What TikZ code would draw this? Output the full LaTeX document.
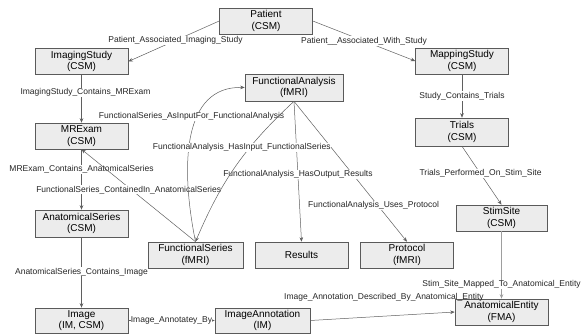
\documentclass[tikz,border=0pt]{standalone}
\usepackage{fontspec}
\setmainfont{Liberation Sans}
\usetikzlibrary{arrows.meta}
\definecolor{boxfill}{RGB}{236,236,236}
\definecolor{boxline}{RGB}{90,90,90}
\definecolor{edgeline}{RGB}{95,95,95}
\begin{document}
\begin{tikzpicture}[x=1pt,y=-1pt,
  ent/.style={draw=boxline,line width=0.6pt,fill=boxfill,rectangle,inner sep=0pt,
     minimum width=93pt,minimum height=26pt,align=center,font=\fontsize{10}{11.5}\selectfont},
  rel/.style={draw=edgeline,line width=0.5pt,-{Stealth[length=4.5pt,width=3.6pt]}},
  lbl/.style={fill=white,inner sep=0.6pt,font=\fontsize{8.5}{9}\selectfont,text=black!85}]
\useasboundingbox (0,0) rectangle (588,335);
% entities
\node[ent] (patient) at (266,21) {Patient\\(CSM)};
\node[ent] (imaging) at (81.5,61.5) {ImagingStudy\\(CSM)};
\node[ent] (mrexam) at (81.5,136) {MRExam\\(CSM)};
\node[ent,minimum width=98pt,minimum height=27pt] (funcan) at (294,87.5) {FunctionalAnalysis\\(fMRI)};
\node[ent] (mapping) at (462,61) {MappingStudy\\(CSM)};
\node[ent,minimum height=28pt] (trials) at (462,132) {Trials\\(CSM)};
\node[ent,minimum height=27pt] (anatser) at (81.5,223.5) {AnatomicalSeries\\(CSM)};
\node[ent,minimum width=95pt] (funcser) at (195.5,255) {FunctionalSeries\\(fMRI)};
\node[ent] (results) at (301.5,255) {Results};
\node[ent] (protocol) at (407,255) {Protocol\\(fMRI)};
\node[ent,minimum width=91pt] (stimsite) at (501.5,218) {StimSite\\(CSM)};
\node[ent] (anatent) at (501.5,312) {AnatomicalEntity\\(FMA)};
\node[ent,minimum height=25pt] (image) at (81.5,320.5) {Image\\(IM, CSM)};
\node[ent,minimum width=95pt,minimum height=25pt] (imgann) at (262.5,320.5) {ImageAnnotation\\(IM)};
% relations
\draw[rel] (patient.west) -- node[lbl,pos=0.48] {Patient\_Associated\_Imaging\_Study} (imaging.east);
\draw[rel] (patient.east) -- node[lbl,pos=0.5] {Patient\_\_Associated\_With\_Study} (mapping.west);
\draw[rel] (imaging.south) -- node[lbl,pos=0.375,xshift=4pt] {ImagingStudy\_Contains\_MRExam} (mrexam.north);
\draw[rel] (mrexam.south) -- node[lbl,pos=0.33] {MRExam\_Contains\_AnatomicalSeries} (anatser.north);
\draw[rel] (funcser.north) -- node[lbl,pos=0.56,xshift=-3pt] {FunctionalSeries\_ContainedIn\_AnatomicalSeries} (mrexam.south);
\draw[rel] (funcser.north) .. controls (180,165) and (183,86) .. node[lbl,pos=0.62,xshift=-6pt] {FunctionalSeries\_AsInputFor\_FunctionalAnalysis} (funcan.west);
\draw[rel] (funcan.south) -- node[lbl,pos=0.74,xshift=-4pt] {FunctionalAnalysis\_Uses\_Protocol} (protocol.north);
\draw[rel] (funcan.south) -- node[lbl,pos=0.52] {FunctionalAnalysis\_HasOutput\_Results} (results.north);
\draw[rel] (funcan.south) to[bend right=12] node[lbl,pos=0.36,xshift=-8pt] {FunctionalAnalysis\_HasInput\_FunctionalSeries} (funcser.north);
\draw[rel] (mapping.south) -- node[lbl,pos=0.5] {Study\_Contains\_Trials} (trials.north);
\draw[rel] (trials.south) -- node[lbl,pos=0.47] {Trials\_Performed\_On\_Stim\_Site} (stimsite.north);
\draw[rel,draw=black!38,line width=0.9pt] (stimsite.south) -- node[lbl,pos=0.79] {Stim\_Site\_Mapped\_To\_Anatomical\_Entity} (anatent.north);
\draw[rel] (anatser.south) -- node[lbl,pos=0.49] {AnatomicalSeries\_Contains\_Image} (image.north);
\draw[rel] (image.east) -- node[lbl,pos=0.5,inner sep=0.2pt] {Image\_Annotatey\_By} (imgann.west);
\draw[rel] (imgann.east) -- node[lbl,fill=none,pos=0.51,yshift=18.5pt] {Image\_Annotation\_Described\_By\_Anatomical\_Entity} (anatent.west);
\end{tikzpicture}
\end{document}
